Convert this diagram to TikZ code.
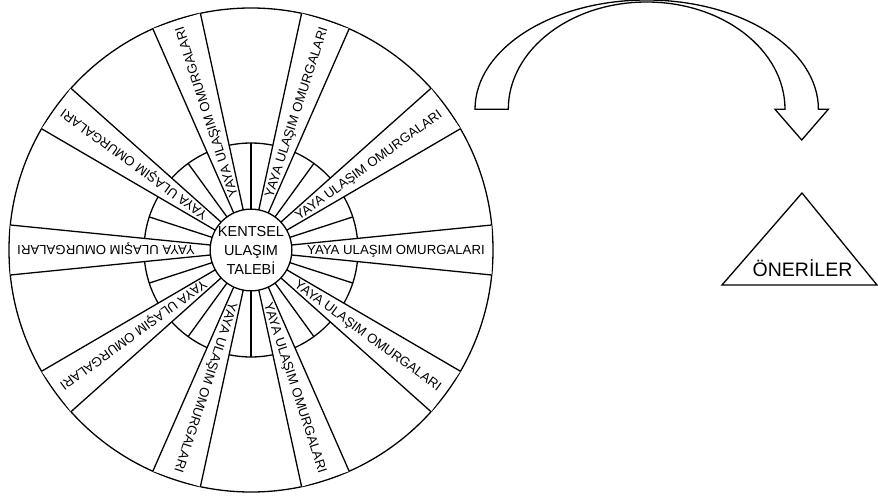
\documentclass[tikz,border=0pt]{standalone}
\usepackage{fontspec}
\setmainfont{Liberation Sans}
\usetikzlibrary{calc}

\begin{document}
\begin{tikzpicture}[x=1pt, y=1pt,
    ring/.style={draw, line width=1.3pt},
    edge/.style={draw, line width=1.3pt},
    stripbox/.style={fill=white},
    striplbl/.style={font=\fontsize{13.2}{15}\selectfont, inner sep=0pt, text height=9.4pt, text depth=0pt, anchor=west, transform shape},
    hub/.style={circle, draw, line width=1.3pt, fill=white, minimum size=72pt, inner sep=0pt, align=center, font=\fontsize{14.5}{19}\selectfont},
    bigarr/.style={draw, line width=1.3pt, line join=miter}
]
    \useasboundingbox (0,0) rectangle (878,499);
    \coordinate (c) at (251,249);

    % Outer and middle rings
    \draw[ring] (c) circle (242);
    \draw[ring] (c) circle (107);

    % Short spokes between the strips
    \foreach \a in {18,54,...,342} {
        \draw[edge] ($(c)+(\a:36)$) -- ($(c)+(\a:107)$);
    }

    % Strips with labels
    \foreach \a [count=\i] in {0,36,...,324} {
        \begin{scope}[shift={(c)}, rotate=\a]
            \fill[stripbox] (35.7,-4.5) -- (240.7,-25) -- (240.7,25) -- (35.7,4.5) -- cycle;
            \draw[edge] (35.7,4.5) -- (240.7,25);
            \draw[edge] (35.7,-4.5) -- (240.7,-25);
            \node[striplbl] (yaya\i) at (56,0) {YAYA ULAŞIM OMURGALARI};
        \end{scope}
    }

    % Hub
    \node[hub] (hub) at (c) {KENTSEL\\ULAŞIM\\TALEBİ};

    % Curved arrow
    \draw[bigarr] (475,389.7) -- (508.3,389.7)
        arc[start angle=180, end angle=0, x radius=138.35, y radius=107.3]
        -- (775,389.7) -- (801.7,359) -- (828.3,389.7) -- (818.4,389.7)
        arc[start angle=0, end angle=180, x radius=171.7, y radius=109.3]
        -- cycle;

    % Triangle
    \draw[ring, line join=miter] (722,214) -- (802,306) -- (877,214) -- cycle;
    \node[font=\fontsize{19.5}{22}\selectfont, inner sep=0pt, text height=14pt, text depth=0pt] (oneri) at (802.5,230) {ÖNERİLER};
\end{tikzpicture}
\end{document}
